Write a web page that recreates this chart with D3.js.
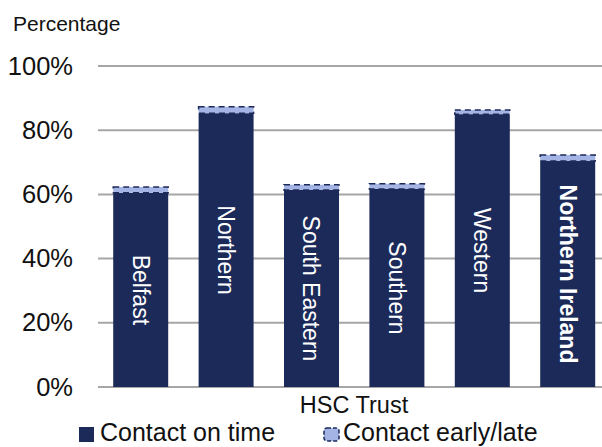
<!DOCTYPE html>
<html>
<head>
<meta charset="utf-8">
<script src="https://cdn.jsdelivr.net/npm/d3@7"></script>
<style>
  body { margin: 0; background: #fff; }
  svg { display: block; font-family: "Liberation Sans", Arial, sans-serif; }
</style>
</head>
<body>
<script>
// Data
var trusts = ["Belfast", "Northern", "South Eastern", "Southern", "Western", "Northern Ireland"];
var onTime = [60.5, 85.3, 61.4, 61.7, 85.0, 70.4];
var earlyLate = [1.8, 2.0, 1.6, 1.6, 1.3, 1.9];
var yTicks = [0, 20, 40, 60, 80, 100];
var seriesNames = ["Contact on time", "Contact early/late"];

var dark = "#1c2a5a", light = "#a4b4e4", grid = "#a6a6a6";

var width = 602, height = 447;
var svg = d3.select("body").append("svg")
    .attr("width", width)
    .attr("height", height);

var x = d3.scaleBand()
    .domain(trusts)
    .range([98, 610.4])
    .paddingInner(0.356)
    .paddingOuter(0.178);

var y = d3.scaleLinear()
    .domain([0, 100])
    .range([387, 66]);

// gridlines
svg.append("g")
  .selectAll("line")
  .data(yTicks)
  .enter()
  .append("line")
    .attr("x1", 98)
    .attr("x2", width)
    .attr("y1", function(d) { return y(d); })
    .attr("y2", function(d) { return y(d); })
    .attr("stroke", grid)
    .attr("stroke-width", 2);

// y axis labels
var yAxis = d3.axisLeft(y)
    .tickValues(yTicks)
    .tickSize(0)
    .tickPadding(0)
    .tickFormat(function(d) { return d + "%"; });

svg.append("g")
    .attr("transform", "translate(73,0)")
    .call(yAxis)
    .call(function(g) { g.select(".domain").remove(); })
    .selectAll("text")
    .attr("font-family", "Liberation Sans, Arial, sans-serif")
    .attr("font-size", 25.5)
    .attr("fill", "#111");

svg.append("text")
    .attr("x", 13)
    .attr("y", 31)
    .attr("font-size", 21)
    .attr("fill", "#111")
    .text("Percentage");

// on time bars
svg.append("g")
  .selectAll("rect")
  .data(trusts)
  .enter()
  .append("rect")
    .attr("x", function(d) { return x(d); })
    .attr("y", function(d, i) { return y(onTime[i]); })
    .attr("width", x.bandwidth())
    .attr("height", function(d, i) { return y(0) - y(onTime[i]); })
    .attr("fill", dark);

// early/late segment with dashed outline
svg.append("g")
  .selectAll("rect")
  .data(trusts)
  .enter()
  .append("rect")
    .attr("x", function(d) { return x(d); })
    .attr("y", function(d, i) { return y(onTime[i] + earlyLate[i]); })
    .attr("width", x.bandwidth())
    .attr("height", function(d, i) { return y(onTime[i]) - y(onTime[i] + earlyLate[i]); })
    .attr("fill", light)
    .attr("stroke", dark)
    .attr("stroke-width", 1.5)
    .attr("stroke-dasharray", "6,4");

// labels inside the bars, rotated
svg.append("g")
  .selectAll("text")
  .data(trusts)
  .enter()
  .append("text")
    .attr("transform", function(d, i) {
      var cx = x(d) + x.bandwidth() / 2;
      var cy = (y(0) + y(onTime[i])) / 2;
      return "translate(" + cx + "," + cy + ") rotate(90)";
    })
    .attr("text-anchor", "middle")
    .attr("dy", "0.35em")
    .attr("font-size", 23)
    .attr("font-weight", function(d, i) { return i === trusts.length - 1 ? "bold" : "normal"; })
    .attr("fill", "#fff")
    .text(function(d) { return d; });

// x axis title
svg.append("text")
    .attr("x", 354)
    .attr("y", 413)
    .attr("text-anchor", "middle")
    .attr("font-size", 23.5)
    .attr("fill", "#111")
    .text("HSC Trust");

// legend
var legend = svg.append("g");
legend.append("rect")
    .attr("x", 79).attr("y", 427)
    .attr("width", 15).attr("height", 15)
    .attr("fill", dark);
legend.append("text")
    .attr("x", 100).attr("y", 441)
    .attr("font-size", 25)
    .attr("fill", "#111")
    .text(seriesNames[0]);
legend.append("rect")
    .attr("x", 324).attr("y", 428)
    .attr("width", 15).attr("height", 13)
    .attr("rx", 3)
    .attr("fill", light)
    .attr("stroke", dark)
    .attr("stroke-width", 1.5)
    .attr("stroke-dasharray", "4,2");
legend.append("text")
    .attr("x", 343).attr("y", 441)
    .attr("font-size", 25)
    .attr("fill", "#111")
    .text(seriesNames[1]);
</script>
</body>
</html>
